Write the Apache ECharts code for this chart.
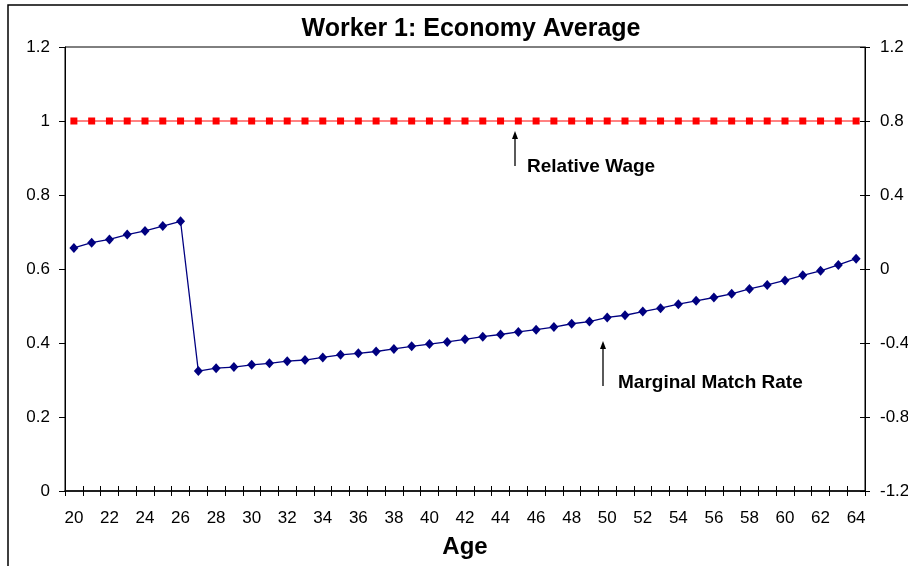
<!DOCTYPE html>
<html>
<head>
<meta charset="utf-8">
<script src="https://cdn.jsdelivr.net/npm/echarts@6/dist/echarts.min.js"></script>
<style>
  html, body { margin: 0; padding: 0; background: #fff; }
  #chart { width: 908px; height: 566px; }
</style>
</head>
<body>
<div id="chart"></div>
<script>
// ages on the x axis
const ages = [];
for (let a = 20; a <= 64; a++) ages.push(String(a));

// relative wage (left axis)
const relativeWage = [
  1, 1, 1, 1, 1, 1, 1, 1, 1, 1, 1, 1, 1, 1, 1,
  1, 1, 1, 1, 1, 1, 1, 1, 1, 1, 1, 1, 1, 1, 1,
  1, 1, 1, 1, 1, 1, 1, 1, 1, 1, 1, 1, 1, 1, 1
];

// marginal match rate (left axis)
const matchRate = [
  0.657, 0.671, 0.680, 0.693, 0.703, 0.716, 0.729,
  0.324, 0.332, 0.335, 0.341, 0.345, 0.351, 0.354, 0.361,
  0.368, 0.372, 0.377, 0.384, 0.391, 0.397, 0.403, 0.410,
  0.417, 0.423, 0.430, 0.436, 0.443, 0.452, 0.458, 0.469,
  0.475, 0.485, 0.494, 0.505, 0.514, 0.523, 0.533, 0.546,
  0.557, 0.569, 0.583, 0.595, 0.611, 0.628
];

const FONT = 'Arial, "Liberation Sans", sans-serif';

const chart = echarts.init(document.getElementById('chart'), null, {renderer: 'canvas'});

chart.setOption({
  backgroundColor: '#fff',
  animation: false,
  title: {
    text: 'Worker 1: Economy Average',
    left: 466,
    textAlign: 'center',
    top: 12,
    textStyle: {fontFamily: FONT, fontSize: 25, fontWeight: 'bold', color: '#000'}
  },
  grid: {
    left: 65, top: 47, right: 43, bottom: 75,
    outerBoundsMode: 'none',
    containLabel: false,
    show: true, borderColor: '#000', borderWidth: 1, backgroundColor: '#fff'
  },
  xAxis: [{
    type: 'category',
    data: ages,
    boundaryGap: true,
    position: 'bottom',
    name: 'Age',
    nameLocation: 'middle',
    nameGap: 44,
    nameTextStyle: {fontFamily: FONT, fontSize: 24, fontWeight: 'bold', color: '#000'},
    axisLine: {onZero: false, lineStyle: {color: '#000', width: 1.5}},
    axisTick: {show: true, interval: 0, length: 5, lineStyle: {color: '#000'}},
    axisLabel: {interval: 1, margin: 19, fontFamily: FONT, fontSize: 17, color: '#000'},
    splitLine: {show: false}
  }, {
    // inner half of the crossing ticks
    type: 'category',
    data: ages,
    boundaryGap: true,
    position: 'bottom',
    offset: 0,
    axisLine: {show: false, onZero: false},
    axisTick: {show: true, inside: true, interval: 0, length: 5, lineStyle: {color: '#000'}},
    axisLabel: {show: false},
    splitLine: {show: false}
  }],
  yAxis: [{
    type: 'value',
    min: 0, max: 1.2, interval: 0.2,
    position: 'left',
    axisLine: {show: true, lineStyle: {color: '#000'}},
    axisTick: {show: true, length: 6, lineStyle: {color: '#000'}},
    axisLabel: {margin: 15, fontFamily: FONT, fontSize: 17, color: '#000'},
    splitLine: {show: false}
  }, {
    type: 'value',
    min: -1.2, max: 1.2, interval: 0.4,
    position: 'right',
    axisLine: {show: true, lineStyle: {color: '#000'}},
    axisTick: {show: true, length: 5, lineStyle: {color: '#000'}},
    axisLabel: {
      margin: 15, fontFamily: FONT, fontSize: 17, color: '#000',
      formatter: v => String(Math.round(v * 10) / 10)
    },
    splitLine: {show: false}
  }, {
    // inner half of the right-axis crossing ticks
    type: 'value',
    min: -1.2, max: 1.2, interval: 0.4,
    position: 'right',
    offset: 0,
    axisLine: {show: false},
    axisTick: {show: true, inside: true, length: 5, lineStyle: {color: '#000'}},
    axisLabel: {show: false},
    splitLine: {show: false}
  }],
  series: [{
    name: 'Relative Wage',
    type: 'line',
    data: relativeWage,
    yAxisIndex: 0,
    symbol: 'rect',
    symbolSize: 7,
    lineStyle: {color: '#ff5a5a', width: 1.5},
    itemStyle: {color: '#ff0000'},
    z: 3
  }, {
    name: 'Marginal Match Rate',
    type: 'line',
    data: matchRate,
    yAxisIndex: 0,
    symbol: 'diamond',
    symbolSize: [9, 10],
    lineStyle: {color: '#000080', width: 1.3},
    itemStyle: {color: '#000080'},
    z: 4
  }],
  graphic: [
    // outer chart frame
    {type: 'rect', shape: {x: 8, y: 5, width: 920, height: 580}, style: {fill: null, stroke: '#000', lineWidth: 1.5}, z: 100},
    // relative wage label
    {type: 'line', shape: {x1: 515, y1: 166, x2: 515, y2: 136}, style: {stroke: '#000', lineWidth: 1.3}, z: 100},
    {type: 'polygon', shape: {points: [[515, 131], [512, 139], [518, 139]]}, style: {fill: '#000'}, z: 100},
    {type: 'text', style: {x: 527, y: 167, text: 'Relative Wage', font: 'bold 19px ' + FONT, fill: '#000', verticalAlign: 'middle'}, z: 100},
    // marginal match rate label
    {type: 'line', shape: {x1: 603, y1: 386, x2: 603, y2: 346}, style: {stroke: '#000', lineWidth: 1.3}, z: 100},
    {type: 'polygon', shape: {points: [[603, 341], [600, 349], [606, 349]]}, style: {fill: '#000'}, z: 100},
    {type: 'text', style: {x: 618, y: 383, text: 'Marginal Match Rate', font: 'bold 19px ' + FONT, fill: '#000', verticalAlign: 'middle'}, z: 100}
  ]
});
</script>
</body>
</html>
